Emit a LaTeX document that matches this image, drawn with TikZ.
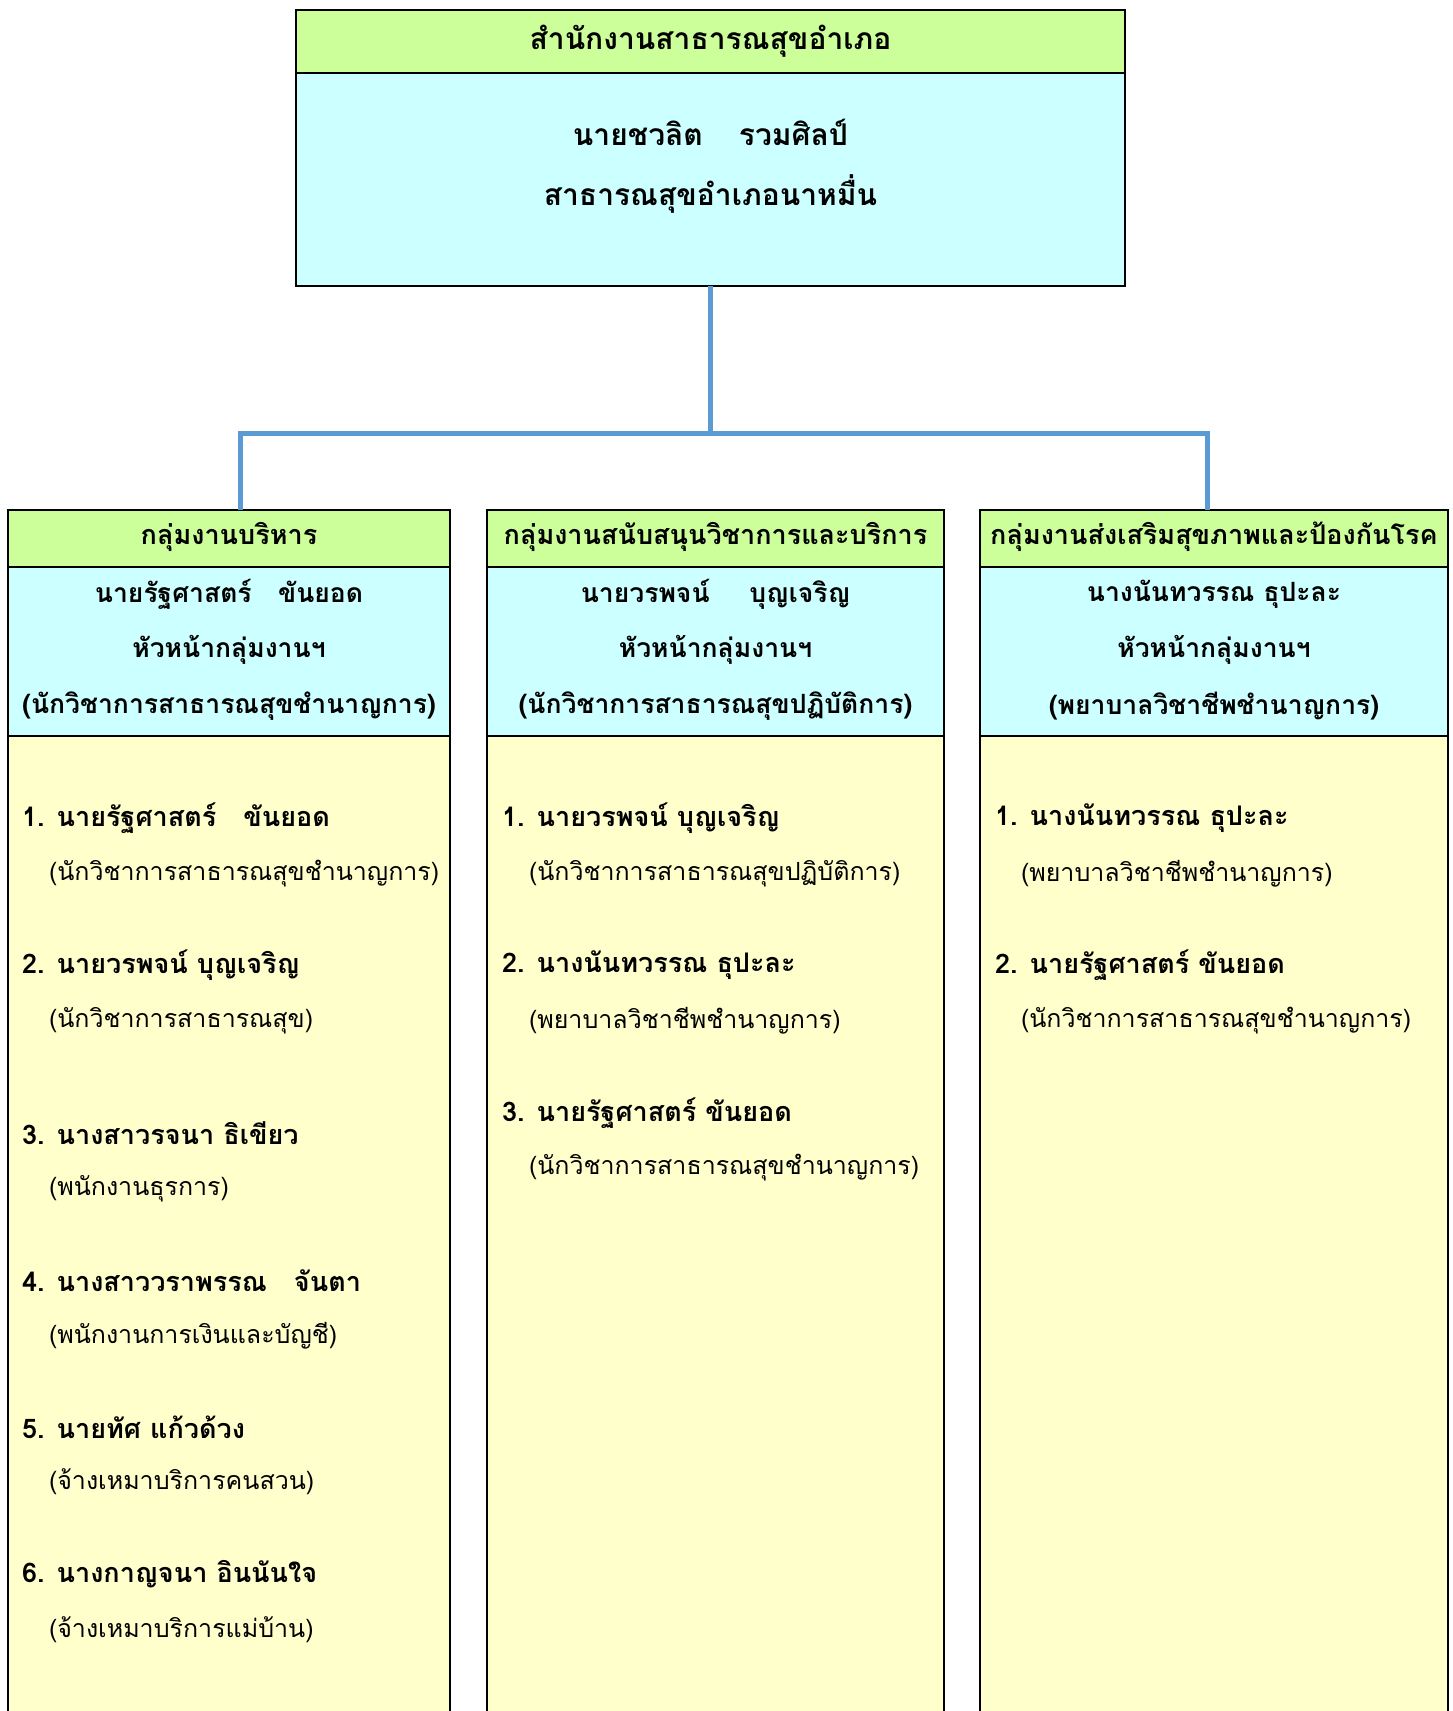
\documentclass[tikz,border=0pt]{standalone}
\usepackage{fontspec}
\setmainfont[Script=Thai]{Loma}
\usepackage{tikz}
\definecolor{hdrgreen}{HTML}{CCFF99}
\definecolor{headcyan}{HTML}{CCFFFF}
\definecolor{listyellow}{HTML}{FFFFCC}
\definecolor{linkblue}{HTML}{5B9BD5}

\begin{document}
\begin{tikzpicture}[x=1pt,y=-1pt,
    hbox/.style={draw=black,line width=1.6pt,fill=hdrgreen},
    cbox/.style={draw=black,line width=1.6pt,fill=headcyan},
    ybox/.style={draw=black,line width=1.6pt,fill=listyellow},
    toptxt/.style={font=\fontsize{30}{34}\selectfont\bfseries},
    grptxt/.style={font=\fontsize{27}{31}\selectfont\bfseries},
    headtxt/.style={font=\fontsize{26.5}{30}\selectfont\bfseries},
    nametxt/.style={font=\fontsize{27}{31}\selectfont\bfseries,anchor=west},
    roletxt/.style={font=\fontsize{25}{29}\selectfont,anchor=west},
    link/.style={draw=linkblue,line width=5pt}]
        \tikzstyle{every node}+=[inner sep=0pt,outer sep=0pt]
        \useasboundingbox (0,0) rectangle (1453,1711);
        \clip (0,0) rectangle (1453,1711);
        % top office box
        \node [hbox,minimum width=829pt,minimum height=63pt] (tophead) at (710.5,41.5) {};
        \node [cbox,minimum width=829pt,minimum height=213pt] (topbody) at (710.5,179.5) {};
        \node [toptxt] (toptitle) at (710.5,41) {สำนักงานสาธารณสุขอำเภอ};
        \node [toptxt] (topname) at (710.5,132) {นายชวลิต\hspace{1.2em}รวมศิลป์};
        \node [toptxt] (toprole) at (710.5,194) {สาธารณสุขอำเภอนาหมื่น};
        % group boxes
        \node [hbox,minimum width=442pt,minimum height=57pt] (hdrA) at (229,538.5) {};
        \node [hbox,minimum width=457pt,minimum height=57pt] (hdrB) at (715.5,538.5) {};
        \node [hbox,minimum width=468pt,minimum height=57pt] (hdrC) at (1214,538.5) {};
        \node [cbox,minimum width=442pt,minimum height=169pt] (leadA) at (229,651.5) {};
        \node [cbox,minimum width=457pt,minimum height=169pt] (leadB) at (715.5,651.5) {};
        \node [cbox,minimum width=468pt,minimum height=169pt] (leadC) at (1214,651.5) {};
        \node [ybox,minimum width=442pt,minimum height=994pt] (listA) at (229,1233) {};
        \node [ybox,minimum width=457pt,minimum height=994pt] (listB) at (715.5,1233) {};
        \node [ybox,minimum width=468pt,minimum height=994pt] (listC) at (1214,1233) {};
        % connectors
        \coordinate (jn) at (710.5,433);
        \draw [link] (topbody.south) -- (jn);
        \draw [link] ([xshift=11pt]hdrA.north) |- (jn) -| ([xshift=-7pt]hdrC.north);
        % header texts
        \node [grptxt] (titleA) at (229,537) {กลุ่มงานบริหาร};
        \node [grptxt] (titleB) at (715.5,537) {กลุ่มงานสนับสนุนวิชาการและบริการ};
        \node [grptxt] (titleC) at (1214,537) {กลุ่มงานส่งเสริมสุขภาพและป้องกันโรค};
        \node [headtxt] (chiefA) at (229,594) {นายรัฐศาสตร์\hspace{1em}ขันยอด};
        \node [headtxt] (postA) at (229,650) {หัวหน้ากลุ่มงานฯ};
        \node [headtxt] (gradeA) at (229,706) {(นักวิชาการสาธารณสุขชำนาญการ)};
        \node [headtxt] (chiefB) at (715.5,594) {นายวรพจน์\hspace{1.5em}บุญเจริญ};
        \node [headtxt] (postB) at (715.5,650) {หัวหน้ากลุ่มงานฯ};
        \node [headtxt] (gradeB) at (715.5,706) {(นักวิชาการสาธารณสุขปฏิบัติการ)};
        \node [headtxt] (chiefC) at (1214,594) {นางนันทวรรณ ธุปะละ};
        \node [headtxt] (postC) at (1214,650) {หัวหน้ากลุ่มงานฯ};
        \node [headtxt] (gradeC) at (1214,706) {(พยาบาลวิชาชีพชำนาญการ)};
        % staff of group A
        \node [nametxt] (itemA1) at (22,818) {1. นายรัฐศาสตร์\hspace{1em}ขันยอด};
        \node [roletxt] (roleA1) at (49,874) {(นักวิชาการสาธารณสุขชำนาญการ)};
        \node [nametxt] (itemA2) at (22,965) {2. นายวรพจน์ บุญเจริญ};
        \node [roletxt] (roleA2) at (49,1021) {(นักวิชาการสาธารณสุข)};
        \node [nametxt] (itemA3) at (22,1133) {3. นางสาวรจนา ธิเขียว};
        \node [roletxt] (roleA3) at (49,1189) {(พนักงานธุรการ)};
        \node [nametxt] (itemA4) at (22,1281) {4. นางสาววราพรรณ\hspace{1em}จันตา};
        \node [roletxt] (roleA4) at (49,1336) {(พนักงานการเงินและบัญชี)};
        \node [nametxt] (itemA5) at (22,1427) {5. นายทัศ แก้วด้วง};
        \node [roletxt] (roleA5) at (49,1482) {(จ้างเหมาบริการคนสวน)};
        \node [nametxt] (itemA6) at (22,1574) {6. นางกาญจนา อินนันใจ};
        \node [roletxt] (roleA6) at (49,1630) {(จ้างเหมาบริการแม่บ้าน)};
        % staff of group B
        \node [nametxt] (itemB1) at (502,818) {1. นายวรพจน์ บุญเจริญ};
        \node [roletxt] (roleB1) at (529,874) {(นักวิชาการสาธารณสุขปฏิบัติการ)};
        \node [nametxt] (itemB2) at (502,965) {2. นางนันทวรรณ ธุปะละ};
        \node [roletxt] (roleB2) at (529,1021) {(พยาบาลวิชาชีพชำนาญการ)};
        \node [nametxt] (itemB3) at (502,1113) {3. นายรัฐศาสตร์ ขันยอด};
        \node [roletxt] (roleB3) at (529,1168) {(นักวิชาการสาธารณสุขชำนาญการ)};
        % staff of group C
        \node [nametxt] (itemC1) at (995,818) {1. นางนันทวรรณ ธุปะละ};
        \node [roletxt] (roleC1) at (1021,874) {(พยาบาลวิชาชีพชำนาญการ)};
        \node [nametxt] (itemC2) at (995,965) {2. นายรัฐศาสตร์ ขันยอด};
        \node [roletxt] (roleC2) at (1021,1021) {(นักวิชาการสาธารณสุขชำนาญการ)};
\end{tikzpicture}
\end{document}
